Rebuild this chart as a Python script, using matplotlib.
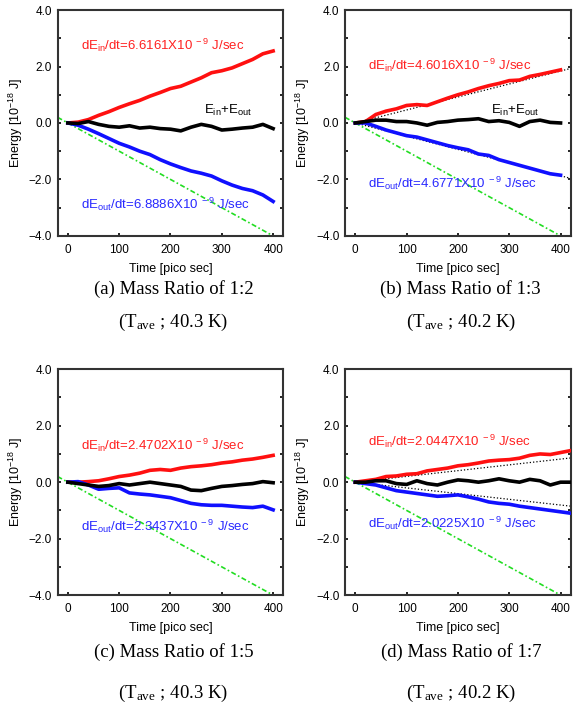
import matplotlib
matplotlib.use("Agg")
import matplotlib.pyplot as plt
from matplotlib.ticker import MultipleLocator

plt.rcParams['font.family'] = ['Liberation Sans', 'DejaVu Sans']
plt.rcParams['mathtext.fontset'] = 'custom'
plt.rcParams['mathtext.rm'] = 'Liberation Sans'
plt.rcParams['mathtext.it'] = 'Liberation Sans'

# time samples [pico sec]
t_400 = list(range(0, 401, 20))
t_420 = list(range(0, 421, 20))

# (a) mass ratio 1:2
a_in = [0.0, 0.03, 0.12, 0.27, 0.40, 0.55, 0.68, 0.80, 0.95, 1.08, 1.22,
        1.30, 1.45, 1.60, 1.78, 1.85, 1.95, 2.10, 2.25, 2.45, 2.55]
a_out = [0.0, -0.08, -0.22, -0.38, -0.55, -0.72, -0.85, -1.0, -1.12, -1.30, -1.45,
         -1.58, -1.70, -1.78, -1.88, -2.05, -2.20, -2.32, -2.40, -2.55, -2.78]
a_sum = [0.0, -0.02, 0.05, -0.05, -0.12, -0.15, -0.10, -0.18, -0.15, -0.20, -0.22,
         -0.28, -0.15, -0.05, -0.12, -0.25, -0.22, -0.18, -0.15, -0.05, -0.20]

# (b) mass ratio 1:3
b_in = [0.0, 0.05, 0.30, 0.42, 0.50, 0.62, 0.65, 0.62, 0.75, 0.88, 1.0,
        1.10, 1.22, 1.32, 1.40, 1.50, 1.52, 1.65, 1.72, 1.80, 1.88]
b_out = [0.0, 0.0, -0.12, -0.25, -0.35, -0.45, -0.50, -0.60, -0.70, -0.80, -0.88,
         -0.95, -1.10, -1.15, -1.30, -1.40, -1.50, -1.60, -1.70, -1.80, -1.85]
b_sum = [0.0, 0.05, 0.10, 0.10, 0.05, 0.05, 0.0, -0.08, 0.02, 0.05, 0.10,
         0.12, 0.15, 0.05, 0.08, 0.02, -0.12, 0.05, 0.10, 0.02, 0.0]

# (c) mass ratio 1:5
c_in = [0.0, 0.0, 0.02, 0.05, 0.12, 0.20, 0.25, 0.32, 0.42, 0.45, 0.42,
        0.50, 0.55, 0.58, 0.62, 0.68, 0.72, 0.78, 0.82, 0.88, 0.95]
c_out = [0.0, 0.02, -0.10, -0.25, -0.22, -0.20, -0.38, -0.42, -0.45, -0.50, -0.55,
         -0.65, -0.75, -0.80, -0.82, -0.82, -0.85, -0.88, -0.90, -0.85, -0.98]
c_sum = [0.0, -0.05, -0.10, -0.15, -0.12, -0.05, -0.10, -0.05, 0.0, -0.05, -0.10,
         -0.15, -0.28, -0.30, -0.22, -0.15, -0.12, -0.08, -0.05, 0.02, -0.02]

# (d) mass ratio 1:7
d_in = [0.0, 0.05, 0.10, 0.20, 0.22, 0.28, 0.30, 0.40, 0.45, 0.50, 0.58,
        0.62, 0.68, 0.75, 0.78, 0.80, 0.85, 0.95, 1.0, 0.98, 1.05, 1.12]
d_out = [0.0, -0.05, -0.10, -0.20, -0.30, -0.35, -0.40, -0.45, -0.50, -0.48, -0.45,
         -0.52, -0.60, -0.70, -0.75, -0.78, -0.85, -0.90, -0.95, -1.0, -1.05, -1.10]
d_sum = [0.0, 0.0, 0.05, 0.05, -0.05, -0.08, 0.05, -0.05, -0.10, 0.0, 0.08,
         0.05, 0.0, 0.05, 0.12, 0.05, 0.0, 0.10, 0.05, -0.10, 0.0, 0.0]

# green reference line end points
green_t = [-20, 400]
green_e = [0.2, -4.0]

rate_in = ['6.6161', '4.6016', '2.4702', '2.0447']
rate_out = ['6.8886', '4.6771', '2.3437', '2.0225']
captions = ['(a) Mass Ratio of 1:2', '(b) Mass Ratio of 1:3',
            '(c) Mass Ratio of 1:5', '(d) Mass Ratio of 1:7']
t_ave = ['40.3', '40.2', '40.3', '40.2']

panels = [
    dict(t=t_400, e_in=a_in, e_out=a_out, e_sum=a_sum, fit=False, sum_lbl=True,
         y_in=2.75, y_out=-2.9, rect=[0.100, 0.671, 0.392, 0.315], cap=(0.074, 0.121)),
    dict(t=t_400, e_in=b_in, e_out=b_out, e_sum=b_sum, fit=True, sum_lbl=True,
         y_in=2.05, y_out=-2.15, rect=[0.599, 0.671, 0.392, 0.315], cap=(0.074, 0.121)),
    dict(t=t_400, e_in=c_in, e_out=c_out, e_sum=c_sum, fit=False, sum_lbl=False,
         y_in=1.32, y_out=-1.55, rect=[0.100, 0.170, 0.392, 0.315], cap=(0.080, 0.137)),
    dict(t=t_420, e_in=d_in, e_out=d_out, e_sum=d_sum, fit=True, sum_lbl=False,
         y_in=1.46, y_out=-1.45, rect=[0.599, 0.170, 0.392, 0.315], cap=(0.080, 0.137)),
]

fig = plt.figure(figsize=(5.76, 7.17), dpi=100)

for i, p in enumerate(panels):
    ax = fig.add_axes(p['rect'])
    ax.plot(green_t, green_e, color='#22dd22', lw=1.2, ls=(0, (3, 1.5, 1, 1.5)), zorder=1)
    if p['fit']:
        k_in = float(rate_in[i]) * 1e-3
        k_out = float(rate_out[i]) * 1e-3
        ax.plot([0, 420], [0, k_in * 420], color='black', lw=0.9, ls=':', zorder=1)
        ax.plot([0, 420], [0, -k_out * 420], color='black', lw=0.9, ls=':', zorder=1)
    ax.plot(p['t'], p['e_in'], color='#ff1010', lw=2.6, zorder=3)
    ax.plot(p['t'], p['e_out'], color='#1010ff', lw=2.6, zorder=3)
    ax.plot(p['t'], p['e_sum'], color='black', lw=2.6, zorder=4)

    ax.text(25, p['y_in'], r'dE$_{in}$/dt=' + rate_in[i] + r'X10$^{\ -9}$ J/sec',
            color='#ff2020', fontsize=9.5, va='center', ha='left')
    ax.text(25, p['y_out'], r'dE$_{out}$/dt=' + rate_out[i] + r'X10$^{\ -9}$ J/sec',
            color='#2828ff', fontsize=9.5, va='center', ha='left')
    if p['sum_lbl']:
        ax.text(265, 0.45, r'E$_{in}$+E$_{out}$', color='black', fontsize=9.5,
                va='center', ha='left')

    ax.set_xlim(-20, 420)
    ax.set_ylim(-4, 4)
    ax.xaxis.set_major_locator(MultipleLocator(100))
    ax.yaxis.set_major_locator(MultipleLocator(2))
    ax.yaxis.set_minor_locator(MultipleLocator(1))
    ax.set_yticklabels(['', '\u22124.0', '\u22122.0', '0.0', '2.0', '4.0'])
    ax.tick_params(which='both', direction='in', right=True,
                   labelsize=8.5, width=1.2, length=2.5)
    ax.tick_params(axis='x', pad=6)
    ax.tick_params(axis='y', pad=4)
    for s in ax.spines.values():
        s.set_linewidth(1.5)
        s.set_color('#333333')
    ax.set_xlabel('Time [pico sec]', fontsize=9, labelpad=5)
    ax.set_ylabel(r'Energy [10$^{-18}$ J]', fontsize=9, labelpad=3)

    x0, y0, w, h = p['rect']
    cx = x0 + w / 2 + 0.005
    fig.text(cx, y0 - p['cap'][0], captions[i], ha='center', va='center',
             fontsize=13.5, family='Liberation Serif')
    fig.text(cx, y0 - p['cap'][1], r'(T$_{\mathregular{ave}}$ ; ' + t_ave[i] + ' K)',
             ha='center', va='center', fontsize=13.5, family='Liberation Serif',
             math_fontfamily='stix')

fig.savefig('out.png', dpi=100)
